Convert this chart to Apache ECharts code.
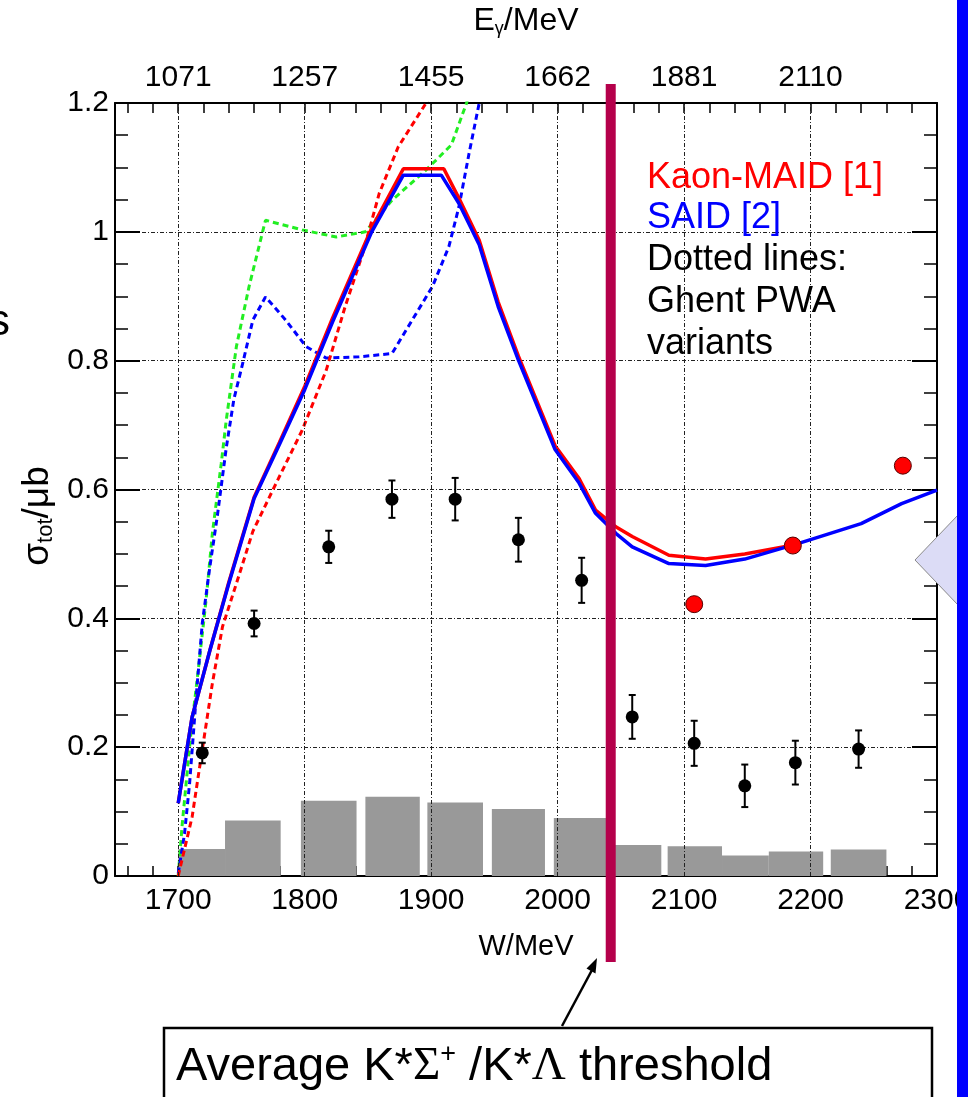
<!DOCTYPE html>
<html><head><meta charset="utf-8">
<script src="https://cdn.jsdelivr.net/npm/echarts@6/dist/echarts.min.js"></script>
<style>html,body{margin:0;padding:0;background:#fff;overflow:hidden}#c{width:968px;height:1097px}</style>
</head><body><div id="c"></div>
<script>
// ---- tick labels ----
const wTicks = [1700, 1800, 1900, 2000, 2100, 2200, 2300];
const eGammaAt = [1700, 1800, 1900, 2000, 2100, 2200];
const eGammaLabels = ['1071', '1257', '1455', '1662', '1881', '2110'];
const xGrid = [1700, 1800, 1900, 2000, 2100, 2200];
const thresholdW = 2042;

// ---- measured cross sections (black) ----
const dataW = [1719, 1760, 1819, 1869, 1919, 1969, 2019, 2059, 2108, 2148, 2188, 2238];
const dataSigma = [0.191, 0.392, 0.511, 0.585, 0.585, 0.522, 0.459, 0.247, 0.206, 0.140, 0.176, 0.197];
const dataErr = [0.016, 0.020, 0.025, 0.029, 0.033, 0.034, 0.035, 0.034, 0.035, 0.033, 0.034, 0.029];

// ---- red points ----
const redW = [2108, 2186, 2273];
const redSigma = [0.422, 0.513, 0.637];

// ---- systematic error histogram ----
const sysLo = [1700, 1737, 1797, 1848, 1897, 1948, 1997, 2044, 2087, 2130, 2167, 2216];
const sysHi = [1737, 1781, 1841, 1891, 1941, 1990, 2040, 2082, 2130, 2167, 2210, 2260];
const sysVal = [0.042, 0.086, 0.117, 0.123, 0.114, 0.104, 0.090, 0.048, 0.046, 0.032, 0.038, 0.041];

// ---- SAID (blue solid) ----
const saidW = [1700, 1711, 1725, 1740, 1760, 1780, 1800, 1822, 1853, 1878, 1908, 1922, 1938, 1953, 1969, 1998, 2017, 2030, 2046, 2059, 2088, 2117, 2148, 2190, 2240, 2272, 2300];
const said = [0.113, 0.247, 0.350, 0.454, 0.586, 0.670, 0.755, 0.860, 1.000, 1.088, 1.088, 1.044, 0.980, 0.884, 0.801, 0.662, 0.610, 0.563, 0.532, 0.511, 0.485, 0.482, 0.492, 0.516, 0.547, 0.578, 0.599];

// ---- Kaon-MAID (red solid) ----
const kaonW = [1700, 1711, 1725, 1740, 1760, 1780, 1800, 1822, 1853, 1878, 1910, 1922, 1938, 1953, 1969, 1998, 2017, 2030, 2046, 2059, 2088, 2117, 2148, 2190];
const kaon = [0.113, 0.247, 0.350, 0.456, 0.588, 0.673, 0.760, 0.866, 1.006, 1.098, 1.098, 1.052, 0.987, 0.891, 0.807, 0.668, 0.617, 0.568, 0.542, 0.527, 0.498, 0.492, 0.500, 0.515];

// ---- Ghent PWA variants (dashed) ----
const ghentRedW = [1700, 1711, 1719, 1727, 1735, 1746, 1759, 1775, 1798, 1817, 1832, 1846, 1859, 1874, 1896, 1915];
const ghentRed = [0.0, 0.092, 0.196, 0.299, 0.387, 0.454, 0.535, 0.600, 0.692, 0.785, 0.884, 0.967, 1.060, 1.132, 1.200, 1.270];
const ghentGreenW = [1700, 1703, 1710, 1717, 1722, 1727, 1734, 1738, 1746, 1756, 1769, 1798, 1825, 1848, 1869, 1896, 1916, 1928, 1940];
const ghentGreen = [0.0, 0.077, 0.221, 0.340, 0.428, 0.532, 0.640, 0.708, 0.822, 0.915, 1.018, 1.003, 0.992, 1.000, 1.049, 1.096, 1.135, 1.200, 1.280];
const ghentBlueW = [1700, 1705, 1709, 1714, 1719, 1725, 1731, 1738, 1744, 1751, 1759, 1769, 1785, 1801, 1817, 1843, 1869, 1885, 1901, 1914, 1922, 1930, 1938, 1945];
const ghentBlue = [0.004, 0.066, 0.144, 0.273, 0.392, 0.480, 0.560, 0.665, 0.740, 0.796, 0.863, 0.899, 0.863, 0.822, 0.804, 0.806, 0.811, 0.863, 0.915, 0.977, 1.039, 1.122, 1.200, 1.280];

const xMinor = [];
for (let v = 1660; v <= 2300; v += 20) xMinor.push(v);

const FONT = "'Liberation Sans', Arial, sans-serif";
const zip = (a, b) => a.map((v, i) => [v, b[i]]);

const chart = echarts.init(document.getElementById('c'), null, {renderer: 'canvas'});

const gridStyle = {color: '#222', width: 1, type: [4, 2, 1, 2]};
const axisLineStyle = {color: '#000', width: 2};

function xAxisDef(pos, labelValues, fmt) {
  return {
    type: 'value', position: pos, min: 1650, max: 2300,
    axisLine: {show: true, onZero: false, lineStyle: axisLineStyle},
    axisTick: {show: true, inside: true, length: 10, customValues: xMinor, lineStyle: {color: '#000', width: 1.5}},
    axisLabel: {show: true, customValues: labelValues, margin: 10, fontFamily: FONT, fontSize: 30, color: '#000', formatter: fmt},
    splitLine: {show: false}
  };
}
function yAxisDef(pos, showLabel) {
  return {
    type: 'value', position: pos, min: 0, max: 1.2, interval: 0.2,
    axisLine: {show: true, onZero: false, lineStyle: axisLineStyle},
    axisTick: {show: true, inside: true, length: 25, lineStyle: {color: '#000', width: 2}},
    minorTick: {show: true, splitNumber: 4, length: 13, lineStyle: {color: '#000', width: 1.5}},
    axisLabel: {show: showLabel, margin: 6, fontFamily: FONT, fontSize: 30, color: '#000'},
    splitLine: {show: showLabel, lineStyle: gridStyle},
    minorSplitLine: {show: false}
  };
}

const option = {
  animation: false,
  backgroundColor: '#ffffff',
  grid: {left: 115, top: 103, width: 822, height: 773, containLabel: false, outerBoundsMode: 'none'},
  xAxis: [
    xAxisDef('bottom', wTicks, v => String(v)),
    xAxisDef('top', eGammaAt, v => eGammaLabels[eGammaAt.indexOf(v)] || '')
  ],
  yAxis: [yAxisDef('left', true), yAxisDef('right', false)],
  series: [
    { // vertical grid lines
      type: 'line', data: [], z: 1, silent: true,
      markLine: {silent: true, symbol: ['none', 'none'], label: {show: false},
        lineStyle: gridStyle, animation: false,
        data: xGrid.map(v => ({xAxis: v}))}
    },
    { // systematic error histogram
      type: 'custom', z: 2, clip: true,
      data: sysLo.map((v, i) => [v, sysHi[i], sysVal[i]]),
      encode: {x: [0, 1], y: 2},
      renderItem: (params, api) => {
        const p0 = api.coord([api.value(0), api.value(2)]);
        const p1 = api.coord([api.value(1), 0]);
        return {type: 'rect', shape: {x: p0[0], y: p0[1], width: p1[0] - p0[0], height: p1[1] - p0[1]},
          style: {fill: '#999999'}};
      }
    },
    {type: 'line', z: 3, data: zip(ghentGreenW, ghentGreen), showSymbol: false, symbol: 'none', clip: true,
      lineStyle: {color: '#22ee22', width: 3, type: [6, 4]}},
    {type: 'line', z: 3, data: zip(ghentBlueW, ghentBlue), showSymbol: false, symbol: 'none', clip: true,
      lineStyle: {color: '#0000ff', width: 3, type: [6, 4]}},
    {type: 'line', z: 3, data: zip(ghentRedW, ghentRed), showSymbol: false, symbol: 'none', clip: true,
      lineStyle: {color: '#ff0000', width: 3, type: [6, 4]}},
    {type: 'line', z: 4, data: zip(kaonW, kaon), showSymbol: false, symbol: 'none', clip: true,
      lineStyle: {color: '#ff0000', width: 3.5}},
    {type: 'line', z: 5, data: zip(saidW, said), showSymbol: false, symbol: 'none', clip: true,
      lineStyle: {color: '#0000ff', width: 3.5}},
    { // error bars
      type: 'custom', z: 6,
      data: dataW.map((w, i) => [w, dataSigma[i] - dataErr[i], dataSigma[i] + dataErr[i]]),
      encode: {x: 0, y: [1, 2]},
      renderItem: (params, api) => {
        const x = api.value(0);
        const a = api.coord([x, api.value(2)]);
        const b = api.coord([x, api.value(1)]);
        const cw = 3.5;
        const st = {stroke: '#000', lineWidth: 2};
        return {type: 'group', children: [
          {type: 'line', shape: {x1: a[0], y1: a[1], x2: b[0], y2: b[1]}, style: st},
          {type: 'line', shape: {x1: a[0] - cw, y1: a[1], x2: a[0] + cw, y2: a[1]}, style: st},
          {type: 'line', shape: {x1: b[0] - cw, y1: b[1], x2: b[0] + cw, y2: b[1]}, style: st}
        ]};
      }
    },
    {type: 'scatter', z: 7, data: zip(dataW, dataSigma), symbol: 'circle', symbolSize: 13,
      itemStyle: {color: '#000', opacity: 1}},
    {type: 'scatter', z: 8, data: zip(redW, redSigma), symbol: 'circle', symbolSize: 17,
      itemStyle: {color: '#ff0000', borderColor: '#550000', borderWidth: 1, opacity: 1}}
  ]
};
chart.setOption(option);

const thrX = chart.convertToPixel({xAxisIndex: 0}, thresholdW);
const legendLines = [
  {t: 'Kaon-MAID [1]', c: '#ff0000', y: 178},
  {t: 'SAID [2]', c: '#0000ff', y: 218},
  {t: 'Dotted lines:', c: '#000000', y: 260},
  {t: 'Ghent PWA', c: '#000000', y: 302},
  {t: 'variants', c: '#000000', y: 344}
];
const graphics = [
  {type: 'rect', z: 50, shape: {x: thrX - 5, y: 84, width: 10, height: 878}, style: {fill: '#b5004b'}},
  {type: 'text', z: 60, x: 526, y: 947, style: {text: 'W/MeV', font: "29px 'Liberation Sans', sans-serif", fill: '#000', align: 'center', verticalAlign: 'middle'}},
  {type: 'text', z: 60, x: 526, y: 21, style: {
    text: '{a|E}{s|γ}{a|/MeV}', align: 'center', verticalAlign: 'middle',
    rich: {a: {fontFamily: FONT, fontSize: 32, fill: '#000', lineHeight: 34},
           s: {fontFamily: FONT, fontSize: 18, fill: '#000', lineHeight: 8, verticalAlign: 'bottom'}}}},
  {type: 'text', z: 60, x: 38, y: 516, rotation: Math.PI / 2, style: {
    text: '{a|σ}{s|tot}{a|/μb}', align: 'center', verticalAlign: 'middle',
    rich: {a: {fontFamily: FONT, fontSize: 37, fill: '#000', lineHeight: 38},
           s: {fontFamily: FONT, fontSize: 22, fill: '#000', lineHeight: 10, verticalAlign: 'bottom'}}}},
  {type: 'text', z: 60, x: -12, y: 323, style: {text: 's', font: "44px 'Liberation Sans', sans-serif", fill: '#000', align: 'left', verticalAlign: 'middle'}},
  ...legendLines.map(l => ({type: 'text', z: 60, x: 647, y: l.y,
    style: {text: l.t, font: "36px 'Liberation Sans', Arial, sans-serif", fill: l.c, align: 'left', verticalAlign: 'middle'}})),
  {type: 'polygon', z: 70, shape: {points: [[958, 515], [915, 560], [958, 605]]}, style: {fill: '#dcdcf6', stroke: '#8a8a8a', lineWidth: 1}},
  {type: 'rect', z: 80, shape: {x: 957, y: 0, width: 11, height: 1097}, style: {fill: '#0000ff'}},
  {type: 'line', z: 60, shape: {x1: 562, y1: 1026, x2: 592, y2: 970}, style: {stroke: '#000', lineWidth: 2.5}},
  {type: 'polygon', z: 60, shape: {points: [[597, 958], [595.5, 973.5], [586.5, 968.5]]}, style: {fill: '#000'}},
  {type: 'rect', z: 60, shape: {x: 164, y: 1028, width: 768, height: 90}, style: {fill: '#fff', stroke: '#000', lineWidth: 2.5}},
  {type: 'text', z: 61, x: 176, y: 1067, style: {
    text: '{a|Average K*}{g|Σ}{p|+}{a| /K*}{g|Λ}{a| threshold}', align: 'left', verticalAlign: 'middle',
    rich: {a: {fontFamily: FONT, fontSize: 47, fill: '#000', lineHeight: 52},
           g: {fontFamily: "'Liberation Serif', serif", fontSize: 47, fill: '#000', lineHeight: 52},
           p: {fontFamily: FONT, fontSize: 27, fill: '#000', lineHeight: 12, verticalAlign: 'top'}}}}
];
chart.setOption({graphic: graphics});
</script>
</body></html>
